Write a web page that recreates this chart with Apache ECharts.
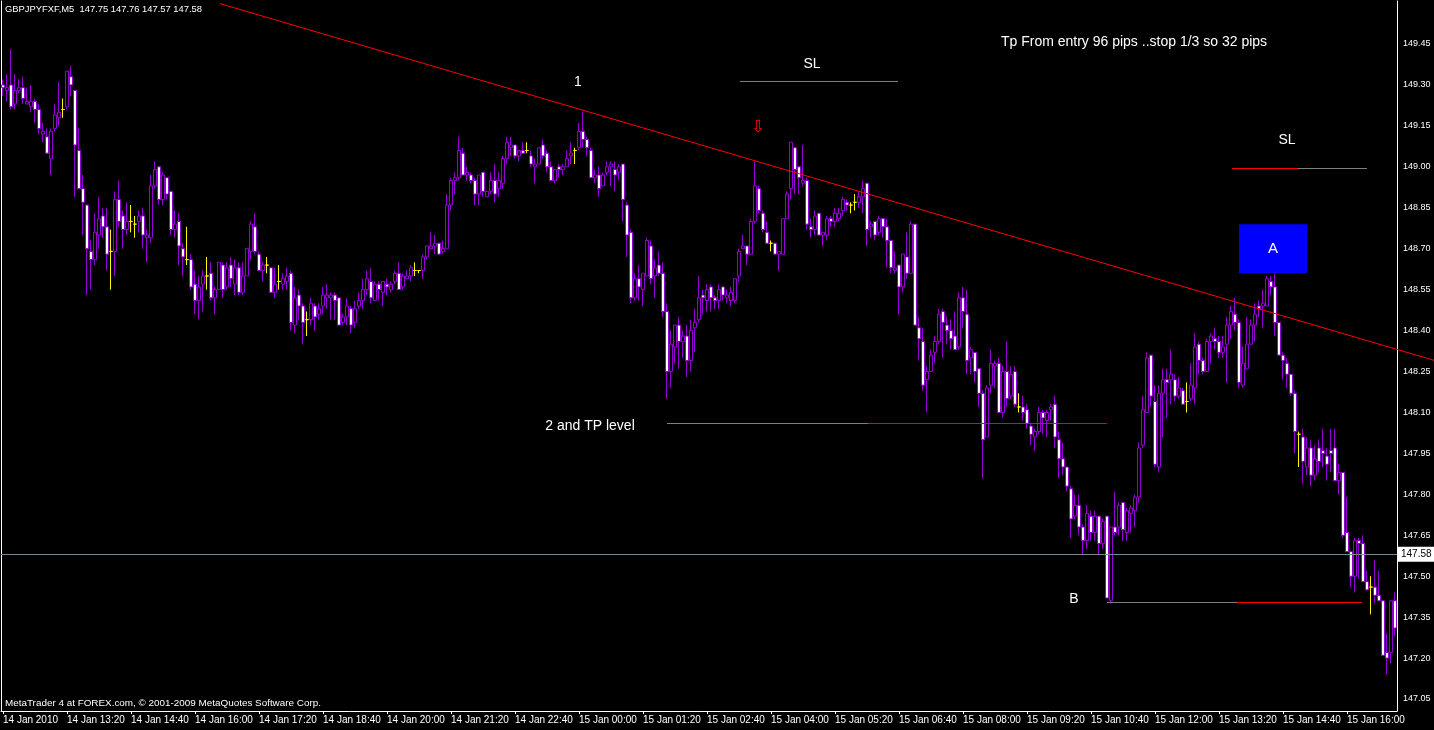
<!DOCTYPE html>
<html><head><meta charset="utf-8">
<script src="https://cdn.jsdelivr.net/npm/echarts@6/dist/echarts.min.js"></script>
<style>html,body{margin:0;padding:0;background:#000;}#c{width:1434px;height:730px;}</style>
</head><body><div id="c"></div>
<script>
// ---------- DATA (GBPJPY M5, 14 Jan 2010 12:00 onwards) ----------
const opens = [
149.30,149.28,149.30,149.23,149.28,149.29,149.23,149.22,149.24,149.21,
149.12,149.11,149.03,149.14,149.18,149.21,149.22,149.33,149.28,149.06,
148.92,148.86,148.69,148.66,148.75,148.82,148.78,148.69,148.69,148.88,
148.82,148.77,148.80,148.79,148.80,148.82,148.74,148.74,148.93,149.00,
148.88,148.96,148.91,148.77,148.80,148.70,148.66,148.66,148.57,148.51,
148.57,148.60,148.61,148.52,148.55,148.64,148.56,148.64,148.57,148.63,
148.54,148.60,148.69,148.78,148.68,148.62,148.64,148.63,148.54,148.58,
148.57,148.58,148.61,148.42,148.53,148.49,148.44,148.44,148.49,148.46,
148.49,148.52,148.52,148.53,148.52,148.43,148.45,148.48,148.43,148.49,
148.51,148.55,148.58,148.51,148.57,148.54,148.57,148.55,148.58,148.61,
148.56,148.59,148.60,148.62,148.62,148.62,148.67,148.70,148.71,148.72,
148.69,148.70,148.86,148.95,148.96,149.05,148.97,148.97,148.95,148.90,
148.98,148.89,148.91,148.95,148.92,148.94,149.03,149.07,149.08,149.04,
149.06,149.06,149.04,149.00,149.01,149.08,149.05,149.00,148.95,149.00,
148.99,149.00,149.04,149.06,149.07,149.13,149.10,149.06,148.96,148.97,
148.93,148.98,149.00,148.99,148.98,149.01,148.86,148.76,148.52,148.59,
148.55,148.60,148.71,148.60,148.64,148.61,148.47,148.25,148.34,148.42,
148.36,148.38,148.29,148.41,148.44,148.53,148.51,148.56,148.52,148.51,
148.56,148.52,148.51,148.51,148.60,148.70,148.71,148.68,148.80,148.92,
148.83,148.76,148.72,148.72,148.68,148.68,148.81,148.92,149.07,149.00,
148.94,148.95,148.78,148.77,148.83,148.75,148.75,148.81,148.80,148.81,
148.84,148.87,148.86,148.87,148.87,148.89,148.94,148.78,148.80,148.76,
148.81,148.78,148.73,148.62,148.64,148.56,148.67,148.61,148.79,148.41,
148.36,148.22,148.25,148.32,148.36,148.47,148.42,148.40,148.38,148.34,
148.52,148.46,148.30,148.32,148.26,148.17,148.01,148.20,148.27,148.28,
148.10,148.25,148.16,148.25,148.12,148.12,148.11,148.05,148.01,148.03,
148.10,148.07,148.11,148.13,148.00,147.93,147.90,147.82,147.72,147.76,
147.68,147.63,147.72,147.66,147.72,147.62,147.72,147.41,147.68,147.68,
147.77,147.66,147.73,147.74,147.79,147.98,148.10,148.31,148.14,147.90,
148.17,148.22,148.22,148.22,148.16,148.18,148.14,148.15,148.19,148.35,
148.29,148.25,148.36,148.37,148.36,148.32,148.35,148.42,148.46,148.43,
148.20,148.26,148.35,148.42,148.49,148.49,148.49,148.58,148.56,148.43,
148.31,148.28,148.24,148.17,148.02,148.01,147.90,147.97,147.87,147.97,
147.96,147.94,147.96,147.97,147.85,147.88,147.66,147.59,147.50,147.63,
147.62,147.48,147.46,147.46,147.43,147.41,147.22,147.22,147.41];
const closes = [
149.29,149.29,149.22,149.28,149.29,149.25,149.24,149.24,149.21,149.14,
149.13,149.05,149.13,149.19,149.20,149.21,149.35,149.30,149.08,148.92,
148.87,148.70,148.66,148.76,148.81,148.78,148.68,148.69,148.88,148.80,
148.77,148.80,148.80,148.79,148.82,148.75,148.75,148.93,148.99,148.88,
148.97,148.90,148.77,148.79,148.71,148.67,148.66,148.56,148.51,148.56,
148.60,148.60,148.52,148.55,148.65,148.55,148.63,148.59,148.63,148.54,
148.60,148.70,148.79,148.69,148.62,148.64,148.64,148.54,148.57,148.58,
148.59,148.60,148.43,148.52,148.49,148.43,148.44,148.50,148.45,148.48,
148.53,148.53,148.53,148.51,148.42,148.45,148.49,148.42,148.48,148.51,
148.55,148.59,148.52,148.57,148.55,148.58,148.56,148.57,148.61,148.55,
148.60,148.60,148.63,148.62,148.62,148.67,148.71,148.71,148.72,148.68,
148.70,148.86,148.95,148.96,149.06,148.97,148.98,148.95,148.90,148.97,
148.91,148.91,148.95,148.90,148.95,149.03,149.09,149.08,149.04,149.06,
149.05,149.06,149.01,149.01,149.07,149.04,149.00,148.95,148.99,148.99,
149.00,149.03,149.05,149.06,149.13,149.10,149.07,148.96,148.97,148.92,
148.97,149.00,149.01,148.97,149.00,148.88,148.75,148.52,148.59,148.56,
148.61,148.73,148.59,148.63,148.61,148.47,148.25,148.35,148.42,148.36,
148.38,148.29,148.40,148.43,148.52,148.52,148.55,148.52,148.51,148.55,
148.53,148.53,148.54,148.59,148.69,148.71,148.68,148.80,148.93,148.84,
148.77,148.72,148.72,148.68,148.69,148.81,148.90,149.09,148.99,148.96,
148.95,148.79,148.77,148.82,148.75,148.76,148.81,148.80,148.83,148.83,
148.88,148.86,148.86,148.87,148.89,148.92,148.77,148.79,148.75,148.81,
148.78,148.73,148.63,148.63,148.56,148.68,148.61,148.79,148.42,148.37,
148.20,148.25,148.31,148.36,148.46,148.43,148.40,148.37,148.33,148.52,
148.47,148.29,148.33,148.25,148.17,148.00,148.19,148.28,148.28,148.10,
148.25,148.15,148.24,148.13,148.12,148.10,148.06,148.02,148.03,148.10,
148.08,148.10,148.12,148.01,147.93,147.90,147.83,147.71,147.76,147.68,
147.63,147.73,147.66,147.72,147.62,147.70,147.42,147.68,147.66,147.76,
147.67,147.74,147.75,147.79,147.97,148.11,148.30,148.16,147.91,148.17,
148.22,148.21,148.24,148.16,148.19,148.13,148.14,148.20,148.34,148.29,
148.25,148.36,148.38,148.36,148.32,148.34,148.42,148.47,148.43,148.21,
148.28,148.35,148.42,148.46,148.48,148.50,148.59,148.56,148.43,148.31,
148.29,148.24,148.17,148.03,148.02,147.92,147.97,147.87,147.93,147.92,
147.95,147.91,147.95,147.85,147.88,147.65,147.59,147.50,147.63,147.62,
147.48,147.45,147.46,147.43,147.41,147.21,147.20,147.41,147.31];
const lows = [
149.26,149.24,149.21,149.21,149.27,149.23,149.23,149.20,149.16,149.12,
149.09,149.05,148.97,149.13,149.15,149.18,149.21,149.26,148.89,148.92,
148.75,148.53,148.55,148.64,148.70,148.74,148.62,148.55,148.60,148.78,
148.70,148.75,148.76,148.74,148.76,148.70,148.65,148.72,148.92,148.86,
148.86,148.88,148.75,148.74,148.64,148.60,148.64,148.55,148.46,148.44,
148.47,148.55,148.51,148.46,148.55,148.52,148.55,148.56,148.53,148.53,
148.53,148.60,148.66,148.68,148.62,148.58,148.61,148.54,148.52,148.55,
148.55,148.55,148.40,148.39,148.44,148.35,148.38,148.42,148.40,148.44,
148.46,148.48,148.44,148.44,148.42,148.42,148.42,148.39,148.41,148.48,
148.48,148.53,148.50,148.51,148.51,148.49,148.53,148.54,148.57,148.55,
148.55,148.59,148.58,148.60,148.61,148.59,148.66,148.70,148.68,148.68,
148.68,148.70,148.84,148.90,148.95,148.97,148.95,148.94,148.86,148.86,
148.89,148.89,148.90,148.87,148.89,148.92,149.01,149.04,149.03,149.02,
149.05,149.05,149.00,148.94,149.01,149.03,148.98,148.95,148.94,148.96,
148.97,149.00,149.01,149.01,149.06,149.07,149.04,148.96,148.94,148.89,
148.93,148.97,148.93,148.91,148.95,148.80,148.67,148.50,148.51,148.51,
148.49,148.60,148.57,148.52,148.60,148.45,148.15,148.19,148.28,148.26,
148.30,148.23,148.25,148.32,148.43,148.46,148.47,148.47,148.48,148.48,
148.51,148.50,148.49,148.50,148.58,148.70,148.64,148.68,148.79,148.83,
148.76,148.72,148.69,148.68,148.62,148.68,148.81,148.88,148.90,148.90,
148.93,148.77,148.74,148.75,148.75,148.71,148.73,148.78,148.78,148.80,
148.82,148.84,148.83,148.84,148.85,148.83,148.71,148.74,148.73,148.75,
148.74,148.63,148.61,148.61,148.46,148.54,148.59,148.61,148.42,148.29,
148.18,148.10,148.25,148.28,148.35,148.30,148.35,148.33,148.33,148.33,
148.41,148.24,148.24,148.21,148.12,147.86,148.01,148.17,148.19,148.10,
148.08,148.12,148.15,148.12,148.10,148.07,148.04,147.98,147.96,148.02,
148.02,148.01,148.07,147.97,147.86,147.87,147.81,147.64,147.71,147.65,
147.58,147.60,147.63,147.63,147.58,147.60,147.42,147.40,147.65,147.65,
147.63,147.63,147.66,147.68,147.77,147.97,148.10,148.12,147.90,147.88,
148.01,148.08,148.13,148.14,148.15,148.13,148.10,148.14,148.13,148.24,
148.24,148.25,148.28,148.33,148.30,148.30,148.21,148.37,148.40,148.19,
148.19,148.26,148.35,148.36,148.45,148.41,148.49,148.53,148.38,148.31,
148.22,148.19,148.16,147.95,147.90,147.84,147.87,147.83,147.85,147.88,
147.90,147.85,147.88,147.85,147.80,147.64,147.59,147.46,147.44,147.49,
147.48,147.45,147.36,147.40,147.41,147.21,147.14,147.18,147.28];
const highs = [
149.32,149.34,149.43,149.34,149.32,149.33,149.29,149.30,149.25,149.23,
149.16,149.14,149.14,149.23,149.31,149.25,149.35,149.37,149.28,149.14,
148.97,148.86,148.73,148.83,148.89,148.85,148.85,148.77,148.91,148.95,
148.84,148.87,148.86,148.82,148.84,148.85,148.77,148.97,149.02,149.00,
148.98,148.96,148.91,148.84,148.83,148.72,148.78,148.68,148.62,148.60,
148.62,148.67,148.65,148.56,148.65,148.65,148.65,148.67,148.66,148.65,
148.65,148.70,148.80,148.83,148.69,148.65,148.67,148.63,148.63,148.64,
148.61,148.63,148.62,148.56,148.55,148.50,148.47,148.52,148.50,148.50,
148.56,148.57,148.54,148.54,148.52,148.46,148.52,148.49,148.51,148.54,
148.59,148.62,148.63,148.58,148.58,148.58,148.59,148.58,148.62,148.65,
148.61,148.62,148.64,148.65,148.62,148.68,148.71,148.76,148.75,148.72,
148.73,148.90,148.96,148.98,149.11,149.07,149.00,148.98,148.96,148.97,
148.98,148.91,148.98,149.01,148.98,149.04,149.11,149.11,149.08,149.06,
149.09,149.09,149.06,149.03,149.07,149.10,149.06,149.02,148.99,149.01,
149.01,149.06,149.09,149.07,149.16,149.20,149.11,149.07,148.99,149.00,
148.98,149.02,149.02,149.02,149.01,149.01,148.87,148.77,148.61,148.64,
148.61,148.74,148.73,148.66,148.69,148.65,148.50,148.40,148.42,148.45,
148.40,148.42,148.44,148.48,148.60,148.55,148.57,148.57,148.53,148.57,
148.56,148.55,148.56,148.59,148.70,148.75,148.71,148.81,149.02,148.93,
148.84,148.80,148.73,148.72,148.69,148.81,148.91,149.09,149.07,149.00,
149.08,148.96,148.81,148.84,148.83,148.76,148.82,148.82,148.85,148.85,
148.89,148.88,148.87,148.90,148.91,148.95,148.94,148.80,148.80,148.82,
148.81,148.81,148.73,148.69,148.64,148.68,148.76,148.80,148.79,148.45,
148.41,148.27,148.33,148.38,148.48,148.48,148.45,148.44,148.47,148.54,
148.56,148.55,148.34,148.32,148.26,148.18,148.20,148.33,148.29,148.30,
148.27,148.36,148.27,148.27,148.17,148.16,148.13,148.06,148.04,148.12,
148.11,148.11,148.13,148.16,148.03,147.99,147.90,147.83,147.80,147.80,
147.69,147.76,147.74,147.74,147.72,147.71,147.72,147.68,147.81,147.77,
147.77,147.75,147.76,147.80,147.99,148.16,148.32,148.31,148.20,148.20,
148.26,148.26,148.33,148.24,148.23,148.19,148.21,148.28,148.39,148.36,
148.30,148.37,148.39,148.41,148.38,148.38,148.45,148.49,148.52,148.44,
148.34,148.45,148.44,148.50,148.51,148.55,148.60,148.60,148.61,148.43,
148.32,148.30,148.24,148.18,148.03,148.04,148.01,148.00,147.98,148.00,
148.04,147.97,148.04,148.04,147.91,147.88,147.79,147.59,147.64,147.64,
147.65,147.52,147.50,147.56,147.52,147.41,147.29,147.41,147.44];

const xTickLabels = ['14 Jan 2010','14 Jan 13:20','14 Jan 14:40','14 Jan 16:00','14 Jan 17:20','14 Jan 18:40',
  '14 Jan 20:00','14 Jan 21:20','14 Jan 22:40','15 Jan 00:00','15 Jan 01:20','15 Jan 02:40','15 Jan 04:00',
  '15 Jan 05:20','15 Jan 06:40','15 Jan 08:00','15 Jan 09:20','15 Jan 10:40','15 Jan 12:00','15 Jan 13:20',
  '15 Jan 14:40','15 Jan 16:00'];
const yTickLabels = [149.45,149.30,149.15,149.00,148.85,148.70,148.55,148.40,148.25,148.10,147.95,147.80,147.65,147.50,147.35,147.20,147.05];
const lastPrice = 147.58;
const headerText = 'GBPJPYFXF,M5  147.75 147.76 147.57 147.58';
const footerText = 'MetaTrader 4 at FOREX.com, \u00A9 2001-2009 MetaQuotes Software Corp.';

// drawn objects (bar index, price)
const trendLine = [[54.25, 149.598], [357.75, 148.291]];
const levelSegments = [
  {from: 184.25, to: 223.75, price: 149.3126, color: '#808080'},
  {from: 307.25, to: 323.75, price: 148.9938, color: '#ff0000'},
  {from: 323.75, to: 341.0,  price: 148.9938, color: '#808080'},
  {from: 166.0,  to: 216.25, price: 148.0595, color: '#808080'},
  {from: 216.25, to: 276.0,  price: 148.0595, color: '#ff0000'},
  {from: 276.0,  to: 308.5,  price: 147.4036, color: '#808080'},
  {from: 308.5,  to: 339.75, price: 147.4036, color: '#ff0000'}
];
const textNotes = [
  {text: '1', at: [143.75, 149.311]},
  {text: 'SL', at: [202.25, 149.377]},
  {text: 'Tp From entry 96 pips ..stop 1/3 so 32 pips', at: [282.75, 149.457]},
  {text: 'SL', at: [321.0, 149.098]},
  {text: '2 and TP level', at: [146.75, 148.05]},
  {text: 'B', at: [267.75, 147.416]}
];
const arrowNote = {text: '\u21E9', at: [188.75, 149.142]};
const boxA = {text: 'A', from: [309, 148.79], to: [326, 148.611]};

// ---------- CHART ----------
const N = opens.length;
const mon = ['Jan'];
const categories = [];
const t0 = Date.UTC(2010, 0, 14, 12, 0);
for (let i = 0; i < N; i++) {
  const d = new Date(t0 + i * 300000);
  const hh = String(d.getUTCHours()).padStart(2, '0');
  const mm = String(d.getUTCMinutes()).padStart(2, '0');
  categories.push(d.getUTCDate() + ' ' + mon[d.getUTCMonth()] + ' ' + hh + ':' + mm);
}
const candles = opens.map((o, i) => [o, closes[i], lows[i], highs[i]]);

const PURPLE = '#9400D3';
const FONT = 'Liberation Sans';
const plotH = 711, topPx = 1;
const pxPerUnit = (699 - 44) / 2.4;
const yMax = 149.45 + (44 - topPx) / pxPerUnit;
const yMin = 149.45 - (plotH - 44) / pxPerUnit;
const fullW = 1433;                 // overlay grid spans to the window edge
const overlayMax = -0.5 + fullW / 4;

const series = [{
  type: 'candlestick',
  data: candles,
  barWidth: 3,
  z: 2,
  itemStyle: {color: '#000000', color0: '#ffffff', borderColor: PURPLE, borderColor0: PURPLE, borderColorDoji: '#ffff00', borderWidth: 1},
  markLine: {
    silent: true, symbol: ['none', 'none'], animation: false,
    lineStyle: {color: '#778899', width: 1, type: 'solid'},
    label: {show: true, position: 'end', formatter: lastPrice.toFixed(2), color: '#000', backgroundColor: '#ffffff',
            fontFamily: FONT, fontSize: 10, padding: [3, 3, 2, 3], distance: 1},
    data: [{yAxis: lastPrice}]
  }
}];
levelSegments.forEach(s => series.push({
  type: 'line', xAxisIndex: 1, silent: true, symbol: 'none', z: 5,
  lineStyle: {color: s.color, width: 1},
  data: [[s.from, s.price], [s.to, s.price]]
}));
series.push({
  type: 'line', xAxisIndex: 2, yAxisIndex: 1, silent: true, symbol: 'none', z: 6,
  lineStyle: {color: '#ff0000', width: 1},
  data: trendLine
});
series.push({
  type: 'scatter', xAxisIndex: 1, silent: true, symbolSize: 0, z: 7,
  itemStyle: {color: '#000000', opacity: 1},
  label: {show: true, position: 'inside', color: '#ffffff', textBorderWidth: 0, fontFamily: FONT, fontSize: 14,
          formatter: p => p.data.name},
  data: textNotes.map(n => ({name: n.text, value: n.at}))
    .concat([{name: arrowNote.text, value: arrowNote.at,
              label: {color: '#ff0000', textBorderWidth: 0, fontFamily: 'DejaVu Sans', fontSize: 17}}]),
  markArea: {
    silent: true,
    itemStyle: {color: '#0000ff', opacity: 1},
    label: {show: true, position: 'inside', color: '#ffffff', fontFamily: FONT, fontSize: 15, formatter: boxA.text},
    data: [[{coord: boxA.from}, {coord: boxA.to}]]
  }
});

const chart = echarts.init(document.getElementById('c'), null, {renderer: 'canvas'});
chart.setOption({
  backgroundColor: '#000000',
  animation: false,
  grid: [
    {left: 1, right: 37, top: topPx, height: plotH - topPx, containLabel: false},
    {left: 1, width: fullW, top: topPx, height: plotH - topPx, containLabel: false}
  ],
  xAxis: [{
    type: 'category', data: categories, boundaryGap: true,
    axisLine: {show: true, lineStyle: {color: '#ffffff', width: 1}},
    axisTick: {show: true, alignWithLabel: true, length: 3, interval: i => i % 16 === 0, lineStyle: {color: '#ffffff'}},
    axisLabel: {show: true, interval: i => i % 16 === 0, align: 'left', color: '#ffffff', fontFamily: FONT, fontSize: 10, margin: 4,
                formatter: (v, i) => xTickLabels[Math.round(i / 16)] || ''},
    splitLine: {show: false}
  }, {
    type: 'value', min: -0.5, max: N - 0.5, show: false
  }, {
    type: 'value', gridIndex: 1, min: -0.5, max: overlayMax, show: false
  }],
  yAxis: [{
    type: 'value', position: 'right', min: yMin, max: yMax, scale: true,
    axisLine: {show: true, onZero: false, lineStyle: {color: '#ffffff', width: 1}},
    axisTick: {show: false},
    splitLine: {show: false},
    axisLabel: {show: true, customValues: yTickLabels, color: '#ffffff', fontFamily: FONT, fontSize: 9, margin: 6,
                formatter: v => v.toFixed(2)}
  }, {
    type: 'value', gridIndex: 1, min: yMin, max: yMax, show: false
  }, {
    type: 'value', gridIndex: 0, position: 'left', min: yMin, max: yMax,
    axisLine: {show: true, onZero: false, lineStyle: {color: '#ffffff', width: 1}},
    axisTick: {show: false}, axisLabel: {show: false}, splitLine: {show: false}
  }],
  graphic: [
    {type: 'text', left: 5, top: 5, style: {text: headerText, fill: '#ffffff', font: '9.4px "Liberation Sans"'}},
    {type: 'text', left: 5, top: 698, style: {text: footerText, fill: '#ffffff', font: '9.9px "Liberation Sans"'}}
  ],
  series: series
});
</script>
</body></html>
